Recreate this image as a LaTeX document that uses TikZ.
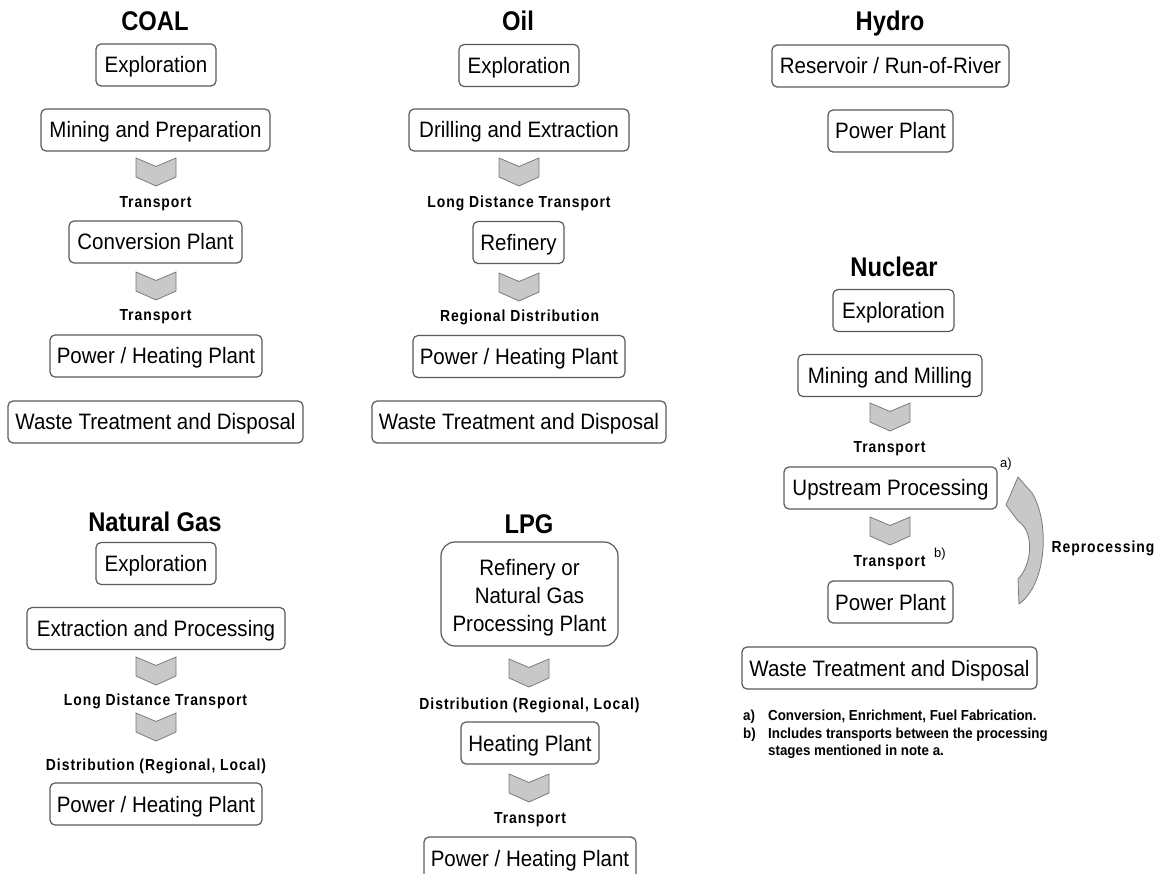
\documentclass[tikz,border=0pt]{standalone}
\usepackage{fontspec}
\setmainfont{Liberation Sans}
\newfontfamily\bxf[FakeStretch=0.92]{Liberation Sans}
\newfontfamily\ttf[FakeStretch=0.88]{Liberation Sans}
\newfontfamily\lbf[FakeStretch=0.87,LetterSpace=6]{Liberation Sans}
\newfontfamily\ntf[FakeStretch=0.92]{Liberation Sans}
\definecolor{boxc}{HTML}{5A5A5A}
\definecolor{chevf}{HTML}{C8C8C8}
\definecolor{chevd}{HTML}{7A7A7A}
\begin{document}
\begin{tikzpicture}[x=1pt,y=-1pt,
  box/.style={draw=boxc, line width=1.2pt, rounded corners=5pt, fill=white,
    minimum height=42pt, inner sep=0pt, text height=16pt, text depth=0pt,
    font=\bxf\fontsize{22.3}{26}\selectfont},
  ttl/.style={font=\ttf\fontsize{27}{30}\selectfont\bfseries, inner sep=0pt, anchor=base},
  lbl/.style={font=\lbf\fontsize{16}{18}\selectfont\bfseries, inner sep=0pt, anchor=base},
  sup/.style={font=\fontsize{13}{15}\selectfont, inner sep=0pt},
  note/.style={font=\ntf\fontsize{14.5}{16}\selectfont\bfseries, inner sep=0pt, anchor=base west},
  chev/.pic={\path[draw=chevd, fill=chevf, line width=0.8pt]
     (-20,0) -- (0,8.5) -- (20,0) -- (20,19) -- (0,28) -- (-20,19) -- cycle;},
  reproc/.style={draw=chevd, fill=chevf, line width=0.8pt}
]
\useasboundingbox (0,0) rectangle (1163,874);

% ---------------- COAL ----------------
\node[ttl] (coalT) at (155,31) {COAL};
\node[box, minimum width=120pt] (coalE) at (156,65) {Exploration};
\node[box, minimum width=229pt] (coalM) at (155.5,130) {Mining and Preparation};
\pic (coalC1) at (156,158) {chev};
\node[lbl] (coalL1) at (155.5,208) {Transport};
\node[box, minimum width=173pt] (coalCP) at (155.5,242) {Conversion Plant};
\pic (coalC2) at (156,272) {chev};
\node[lbl] (coalL2) at (155.5,321) {Transport};
\node[box, minimum width=212pt] (coalP) at (156,356) {Power / Heating Plant};
\node[box, minimum width=295pt] (coalW) at (155.5,422) {Waste Treatment and Disposal};

% ---------------- Oil ----------------
\node[ttl] (oilT) at (518,31) {Oil};
\node[box, minimum width=120pt] (oilE) at (519,65.5) {Exploration};
\node[box, minimum width=220pt] (oilD) at (519,130) {Drilling and Extraction};
\pic (oilC1) at (519,158) {chev};
\node[lbl] (oilL1) at (519,208) {Long Distance Transport};
\node[box, minimum width=91pt] (oilR) at (518.5,242.5) {Refinery};
\pic (oilC2) at (519,273) {chev};
\node[lbl] (oilL2) at (519.5,322) {Regional Distribution};
\node[box, minimum width=212pt] (oilP) at (519,356.5) {Power / Heating Plant};
\node[box, minimum width=294pt] (oilW) at (519,422) {Waste Treatment and Disposal};

% ---------------- Hydro ----------------
\node[ttl] (hydT) at (890,31) {Hydro};
\node[box, minimum width=237pt] (hydR) at (890.5,66) {Reservoir / Run-of-River};
\node[box, minimum width=125pt] (hydP) at (890.5,131) {Power Plant};

% ---------------- Nuclear ----------------
\node[ttl] (nucT) at (894,277) {Nuclear};
\node[box, minimum width=121pt] (nucE) at (893.5,310.5) {Exploration};
\node[box, minimum width=184pt] (nucM) at (890,375.5) {Mining and Milling};
\pic (nucC1) at (890,403) {chev};
\node[lbl] (nucL1) at (889.5,453) {Transport};
\node[box, minimum width=213pt] (nucU) at (890.5,488) {Upstream Processing};
\node[sup] (nucA) at (1006,464) {a)};
\pic (nucC2) at (890,517) {chev};
\node[lbl] (nucL2) at (889.5,566) {Transport};
\node[sup] (nucB) at (940,554) {b)};
\node[box, minimum width=125pt] (nucP) at (890.5,602) {Power Plant};
\node[box, minimum width=295pt] (nucW) at (889.5,668) {Waste Treatment and Disposal};
\path[reproc] (1018,477) -- (1032,493)
   .. controls (1050,522) and (1047,584) .. (1019,604)
   -- (1018,579)
   .. controls (1032,565) and (1035,532) .. (1018,521)
   -- (1006,505) -- cycle;
\node[lbl] (nucRe) at (1103,553) {Reprocessing};

\node[note] (n1a) at (743,720) {a)};
\node[note] (n1) at (768,720) {Conversion, Enrichment, Fuel Fabrication.};
\node[note] (n2a) at (743,738) {b)};
\node[note] (n2) at (768,738) {Includes transports between the processing};
\node[note] (n3) at (768,755) {stages mentioned in note a.};

% ---------------- Natural Gas ----------------
\node[ttl] (ngT) at (155,532) {Natural Gas};
\node[box, minimum width=120pt] (ngE) at (156,563.5) {Exploration};
\node[box, minimum width=258pt] (ngX) at (156,628.5) {Extraction and Processing};
\pic (ngC1) at (156,657) {chev};
\node[lbl] (ngL1) at (155.5,705) {Long Distance Transport};
\pic (ngC2) at (156,713) {chev};
\node[lbl] (ngL2) at (156,770) {Distribution (Regional, Local)};
\node[box, minimum width=212pt] (ngP) at (156,804) {Power / Heating Plant};

% ---------------- LPG ----------------
\node[ttl] (lpgT) at (529,533) {LPG};
\node[box, rounded corners=14pt, minimum width=177pt, minimum height=104pt] (lpgR) at (529.5,594) {};
\node[align=center, inner sep=0pt, font=\bxf\fontsize{22.3}{28}\selectfont, anchor=base]
      (lpgRt) at (529.5,631) {Refinery or\\Natural Gas\\Processing Plant};
\pic (lpgC1) at (529,659) {chev};
\node[lbl] (lpgL1) at (529.5,709) {Distribution (Regional, Local)};
\node[box, minimum width=138pt] (lpgH) at (530,743) {Heating Plant};
\pic (lpgC2) at (529,774) {chev};
\node[lbl] (lpgL2) at (530,823) {Transport};
\node[box, minimum width=212pt] (lpgP) at (530,858) {Power / Heating Plant};
\end{tikzpicture}
\end{document}
